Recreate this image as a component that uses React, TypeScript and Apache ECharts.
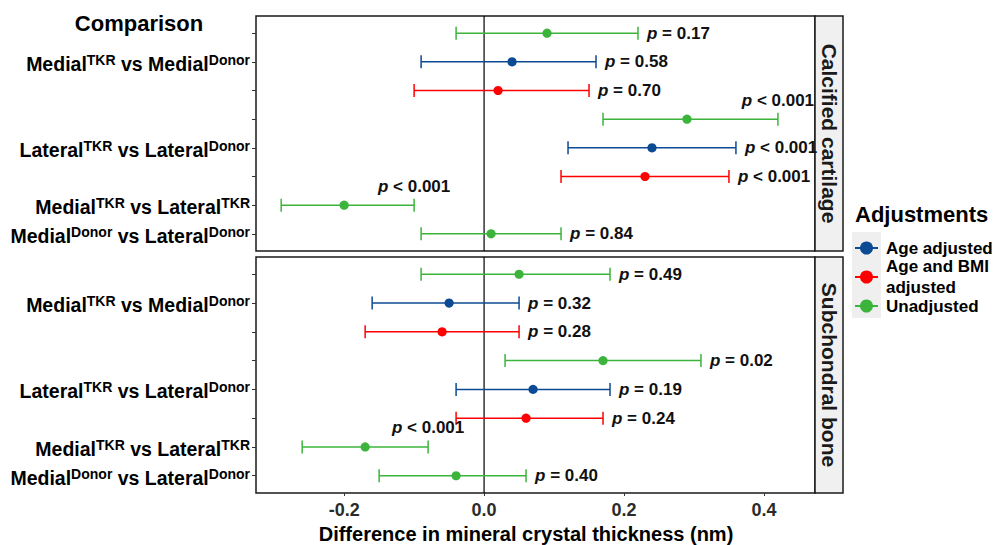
import React, { useEffect, useRef } from "react";
import * as echarts from "echarts";

// ---------- data ----------
const groupNames = ["Age adjusted", "Age and BMI adjusted", "Unadjusted"];
const groupLegendLabels = ["Age adjusted", "Age and BMI\nadjusted", "Unadjusted"];
const groupColors = ["#0C4A93", "#FF0000", "#3CB43C"];

// rows 1..8 (top to bottom) inside each panel; group index per row
const rowNumbers = [1, 2, 3, 4, 5, 6, 7, 8];
const rowGroup = [2, 0, 1, 2, 0, 1, 2, 2];

// y-axis comparison labels (row -> label)
const comparisonRows = [2, 5, 7, 8];
const comparisonLabels = [
  ["Medial", "TKR", " vs Medial", "Donor"],
  ["Lateral", "TKR", " vs Lateral", "Donor"],
  ["Medial", "TKR", " vs Lateral", "TKR"],
  ["Medial", "Donor", " vs Lateral", "Donor"],
];

// Calcified cartilage
const cartEst = [0.09, 0.04, 0.02, 0.29, 0.24, 0.23, -0.2, 0.01];
const cartLow = [-0.04, -0.09, -0.1, 0.17, 0.12, 0.11, -0.29, -0.09];
const cartHigh = [0.22, 0.16, 0.15, 0.42, 0.36, 0.35, -0.1, 0.11];
const cartP = ["p = 0.17", "p = 0.58", "p = 0.70", "p < 0.001", "p < 0.001", "p < 0.001", "p < 0.001", "p = 0.84"];
const cartPAbove = [false, false, false, true, false, false, true, false];

// Subchondral bone
const boneEst = [0.05, -0.05, -0.06, 0.17, 0.07, 0.06, -0.17, -0.04];
const boneLow = [-0.09, -0.16, -0.17, 0.03, -0.04, -0.04, -0.26, -0.15];
const boneHigh = [0.18, 0.05, 0.05, 0.31, 0.18, 0.17, -0.08, 0.06];
const boneP = ["p = 0.49", "p = 0.32", "p = 0.28", "p = 0.02", "p = 0.19", "p = 0.24", "p < 0.001", "p = 0.40"];
const bonePAbove = [false, false, false, false, false, false, true, false];

const panelNames = ["Calcified cartilage", "Subchondral bone"];
const xTicks = [-0.2, 0, 0.2, 0.4];
const xMin = -0.326;
const xMax = 0.473;

const FONT = '"Liberation Sans", Arial, Helvetica, sans-serif';

function buildPanelSeries(
  gridIdx: number,
  est: number[],
  low: number[],
  high: number[],
  pLab: string[],
  above: boolean[]
) {
  const data = rowNumbers.map((r, i) => [low[i], est[i], high[i], r, rowGroup[i], i]);
  return [
    {
      type: "line",
      xAxisIndex: gridIdx,
      yAxisIndex: gridIdx,
      data: [
        [0, 0.4],
        [0, 8.6],
      ],
      symbol: "none",
      lineStyle: { color: "#000", width: 1.2 },
      silent: true,
      z: 1,
    },
    {
      type: "custom",
      xAxisIndex: gridIdx,
      yAxisIndex: gridIdx,
      data,
      encode: { x: [0, 1, 2], y: 3 },
      clip: false,
      z: 3,
      renderItem: (params: any, api: any) => {
        const i = params.dataIndex;
        const row = api.value(3);
        const color = groupColors[api.value(4)];
        const pL = api.coord([api.value(0), row]);
        const pE = api.coord([api.value(1), row]);
        const pH = api.coord([api.value(2), row]);
        const cap = 6.5;
        const ls = { stroke: color, lineWidth: 1.5 };
        const txt = "{i|p}" + pLab[i].slice(1);
        const isAbove = above[i];
        return {
          type: "group",
          children: [
            { type: "line", shape: { x1: pL[0], y1: pL[1], x2: pH[0], y2: pH[1] }, style: ls },
            { type: "line", shape: { x1: pL[0], y1: pL[1] - cap, x2: pL[0], y2: pL[1] + cap }, style: ls },
            { type: "line", shape: { x1: pH[0], y1: pH[1] - cap, x2: pH[0], y2: pH[1] + cap }, style: ls },
            { type: "circle", shape: { cx: pE[0], cy: pE[1], r: 4.6 }, style: { fill: color } },
            {
              type: "text",
              x: isAbove ? pH[0] : pH[0] + 9,
              y: isAbove ? pH[1] - 19 : pH[1],
              style: {
                text: txt,
                fill: "#111",
                fontSize: 17,
                fontWeight: "bold",
                fontFamily: FONT,
                align: isAbove ? "center" : "left",
                verticalAlign: "middle",
                rich: {
                  i: { fontStyle: "italic", fontWeight: "bold", fontSize: 17, fontFamily: FONT, fill: "#111" },
                },
              },
            },
          ],
        };
      },
    },
  ];
}

export default function App() {
  const ref = useRef<HTMLDivElement>(null);
  useEffect(() => {
    if (!ref.current) return;
    const chart = echarts.init(ref.current, null, { renderer: "svg" });

    const grids = [
      { left: 256, top: 16, width: 559, height: 235 },
      { left: 256, top: 257, width: 559, height: 236 },
    ].map((g) => ({ ...g, show: true, borderColor: "#1a1a1a", borderWidth: 1.5, backgroundColor: "#fff", containLabel: false }));

    const yAxes = [0, 1].map((gi) => ({
      type: "value",
      gridIndex: gi,
      min: 0.4,
      max: 8.6,
      inverse: true,
      position: "left",
      axisLine: { show: false, onZero: false },
      splitLine: { show: false },
      axisTick: { show: true, customValues: rowNumbers, length: 4, lineStyle: { color: "#333", width: 1 } },
      axisLabel: {
        show: true,
        customValues: comparisonRows,
        margin: 6,
        formatter: (v: number) => {
          const k = comparisonRows.indexOf(Math.round(v));
          if (k < 0) return "";
          const l = comparisonLabels[k];
          return `{m|${l[0]}}{s|${l[1]}}{m|${l[2]}}{s|${l[3]}}`;
        },
        rich: {
          m: { fontSize: 19.5, fontWeight: "bold", fontFamily: FONT, color: "#000", lineHeight: 22, padding: [4, 0, 0, 0] },
          s: { fontSize: 14, fontWeight: "bold", fontFamily: FONT, color: "#000", verticalAlign: "top", lineHeight: 14, padding: [2, 0, 0, 0] },
        },
      },
    }));

    const xAxes = [0, 1].map((gi) => ({
      type: "value",
      gridIndex: gi,
      min: xMin,
      max: xMax,
      axisLine: { show: false, onZero: false },
      splitLine: { show: false },
      axisTick: gi === 1 ? { show: true, customValues: xTicks, length: 3, lineStyle: { color: "#333" } } : { show: false },
      axisLabel:
        gi === 1
          ? {
              show: true,
              customValues: xTicks,
              margin: 8,
              fontSize: 18,
              fontWeight: "bold",
              fontFamily: FONT,
              color: "#2b2b2b",
              formatter: (v: number) => v.toFixed(1),
            }
          : { show: false },
    }));

    const series = [
      ...buildPanelSeries(0, cartEst, cartLow, cartHigh, cartP, cartPAbove),
      ...buildPanelSeries(1, boneEst, boneLow, boneHigh, boneP, bonePAbove),
    ];

    const stripTop = [16, 257];
    const stripH = [235, 236];
    const graphics: any[] = [];
    panelNames.forEach((name, i) => {
      graphics.push({
        type: "rect",
        shape: { x: 815, y: stripTop[i], width: 28, height: stripH[i] },
        style: { fill: "#F0F0F0", stroke: "#1a1a1a", lineWidth: 1.5 },
      });
      graphics.push({
        type: "text",
        x: 829,
        y: stripTop[i] + stripH[i] / 2,
        rotation: -Math.PI / 2,
        style: {
          text: name,
          fontSize: 21,
          fontWeight: "bold",
          fontFamily: FONT,
          fill: "#1a1a1a",
          align: "center",
          verticalAlign: "middle",
        },
      });
    });
    graphics.push({
      type: "text",
      x: 139,
      y: 23,
      style: { text: "Comparison", fontSize: 22, fontWeight: "bold", fontFamily: FONT, fill: "#000", align: "center", verticalAlign: "middle" },
    });
    graphics.push({
      type: "text",
      x: 526,
      y: 534,
      style: {
        text: "Difference in mineral crystal thickness (nm)",
        fontSize: 20,
        fontWeight: "bold",
        fontFamily: FONT,
        fill: "#000",
        align: "center",
        verticalAlign: "middle",
      },
    });
    // legend
    graphics.push({
      type: "text",
      x: 855,
      y: 214,
      style: { text: "Adjustments", fontSize: 22, fontWeight: "bold", fontFamily: FONT, fill: "#000", align: "left", verticalAlign: "middle" },
    });
    graphics.push({
      type: "rect",
      shape: { x: 852, y: 232, width: 29, height: 86 },
      style: { fill: "#EFEFEF" },
    });
    const legendY = [248, 277, 306];
    groupNames.forEach((g, i) => {
      const y = legendY[i];
      graphics.push({ type: "line", shape: { x1: 855, y1: y, x2: 878, y2: y }, style: { stroke: groupColors[i], lineWidth: 2 } });
      graphics.push({ type: "circle", shape: { cx: 866.5, cy: y, r: 6.5 }, style: { fill: groupColors[i] } });
      graphics.push({
        type: "text",
        x: 886,
        y: y,
        style: {
          text: groupLegendLabels[i],
          fontSize: 17,
          fontWeight: "bold",
          fontFamily: FONT,
          fill: "#000",
          align: "left",
          verticalAlign: "middle",
          lineHeight: 21,
        },
      });
    });

    chart.setOption({
      animation: false,
      backgroundColor: "#fff",
      grid: grids,
      xAxis: xAxes,
      yAxis: yAxes,
      series,
      graphic: graphics,
    });
    return () => chart.dispose();
  }, []);
  return <div ref={ref} style={{ position: "fixed", left: 0, top: 0, width: 995, height: 545 }} />;
}
